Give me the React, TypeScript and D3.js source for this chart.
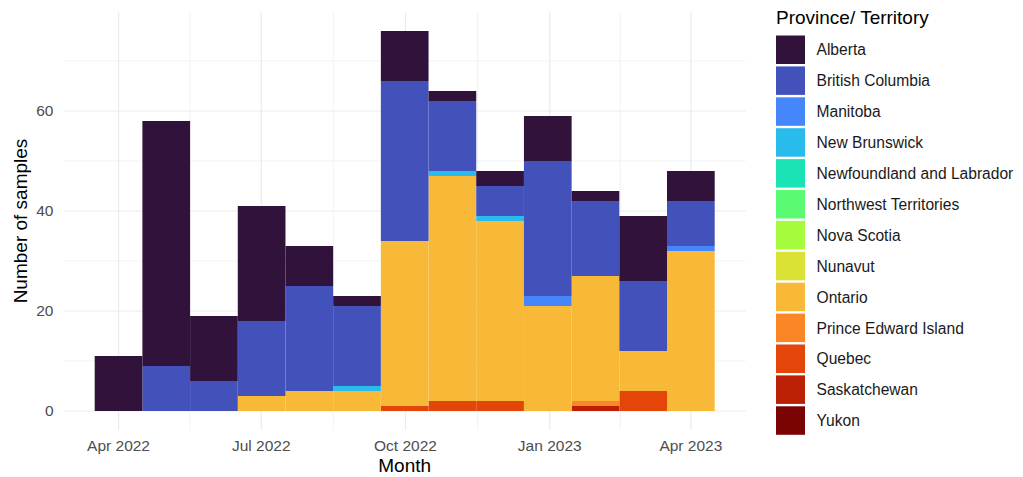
import { useEffect } from 'react';
import * as d3 from 'd3';

// months (histogram bins centred on the 1st of each month, 13 bins)
const months = [
  'Apr 2022', 'May 2022', 'Jun 2022', 'Jul 2022', 'Aug 2022', 'Sep 2022', 'Oct 2022',
  'Nov 2022', 'Dec 2022', 'Jan 2023', 'Feb 2023', 'Mar 2023', 'Apr 2023',
];
const firstCenter = new Date(2022, 3, 1);
const lastCenter = new Date(2023, 3, 1);

const provinces = [
  'Alberta', 'British Columbia', 'Manitoba', 'New Brunswick', 'Newfoundland and Labrador',
  'Northwest Territories', 'Nova Scotia', 'Nunavut', 'Ontario', 'Prince Edward Island',
  'Quebec', 'Saskatchewan', 'Yukon',
];
const colors = [
  '#30123B', '#4351BB', '#4686FB', '#29BBEC', '#1AE4B6', '#5AFB72', '#A4FC3C',
  '#DAE236', '#F8B938', '#FB8626', '#E4460A', '#BB2005', '#7A0403',
];

// counts per month for each province
const alberta = [11, 49, 13, 23, 8, 2, 10, 2, 3, 9, 2, 13, 6];
const britishColumbia = [0, 9, 6, 15, 21, 16, 32, 14, 6, 27, 15, 14, 9];
const manitoba = [0, 0, 0, 0, 0, 0, 0, 0, 0, 2, 0, 0, 1];
const newBrunswick = [0, 0, 0, 0, 0, 1, 0, 1, 1, 0, 0, 0, 0];
const ontario = [0, 0, 0, 3, 4, 4, 33, 45, 36, 21, 25, 8, 32];
const princeEdward = [0, 0, 0, 0, 0, 0, 0, 0, 0, 0, 1, 0, 0];
const quebec = [0, 0, 0, 0, 0, 0, 1, 2, 2, 0, 0, 4, 0];
const saskatchewan = [0, 0, 0, 0, 0, 0, 0, 0, 0, 0, 1, 0, 0];
const zeros = months.map(() => 0);

const seriesByProvince: Record<string, number[]> = {
  'Alberta': alberta,
  'British Columbia': britishColumbia,
  'Manitoba': manitoba,
  'New Brunswick': newBrunswick,
  'Newfoundland and Labrador': zeros,
  'Northwest Territories': zeros,
  'Nova Scotia': zeros,
  'Nunavut': zeros,
  'Ontario': ontario,
  'Prince Edward Island': princeEdward,
  'Quebec': quebec,
  'Saskatchewan': saskatchewan,
  'Yukon': zeros,
};

const yTicks = [0, 20, 40, 60];
const yMinor = [10, 30, 50, 70];
const xTicks = [new Date(2022, 3, 1), new Date(2022, 6, 1), new Date(2022, 9, 1), new Date(2023, 0, 1), new Date(2023, 3, 1)];

const W = 1023;
const H = 477;
const panel = { left: 63.7, right: 745.7, top: 12, bottom: 430 };
const font = 'Liberation Sans, Arial, Helvetica, sans-serif';

export default function App() {
  useEffect(() => {
    document.body.style.margin = '0';
  }, []);

  const n = months.length;
  const day = 86400000;
  const step = (lastCenter.getTime() - firstCenter.getTime()) / (n - 1);
  const binStart = (i: number) => new Date(firstCenter.getTime() + (i - 0.5) * step);
  const lo = binStart(0).getTime();
  const hi = binStart(n).getTime();
  const pad = (hi - lo) * 0.05;

  const x = d3.scaleTime()
    .domain([new Date(lo - pad), new Date(hi + pad)])
    .range([panel.left, panel.right]);

  const rows = months.map((m, i) => {
    const r: any = { month: m };
    provinces.forEach(p => { r[p] = seriesByProvince[p][i]; });
    return r;
  });
  const maxTotal = d3.max(rows, (r: any) => d3.sum(provinces, p => r[p])) as number;
  const y = d3.scaleLinear()
    .domain([-maxTotal * 0.05, maxTotal * 1.05])
    .range([panel.bottom, panel.top]);

  // ggplot stacks the first level on top, so stack in reverse order
  const stack = d3.stack().keys([...provinces].reverse());
  const stacked = stack(rows);
  const color = d3.scaleOrdinal<string, string>().domain(provinces).range(colors);

  // minor x breaks halfway between major breaks
  const xMinor: Date[] = [];
  for (let i = 0; i < xTicks.length - 1; i++) {
    xMinor.push(new Date((xTicks[i].getTime() + xTicks[i + 1].getTime()) / 2));
  }

  const grid = '#EBEBEB';
  const legendX = 776;
  const legendY = 35.5;
  const keyPitch = 30.9;

  return (
    <svg width={W} height={H} style={{ display: 'block', background: '#fff' }}>
      {/* grid */}
      {yMinor.map(v => (
        <line key={'ym' + v} x1={panel.left} x2={panel.right} y1={y(v)} y2={y(v)} stroke={grid} strokeWidth={0.6} />
      ))}
      {xMinor.map((d, i) => (
        <line key={'xm' + i} x1={x(d)} x2={x(d)} y1={panel.top} y2={panel.bottom} stroke={grid} strokeWidth={0.6} />
      ))}
      {yTicks.map(v => (
        <line key={'y' + v} x1={panel.left} x2={panel.right} y1={y(v)} y2={y(v)} stroke={grid} strokeWidth={1.2} />
      ))}
      {xTicks.map((d, i) => (
        <line key={'x' + i} x1={x(d)} x2={x(d)} y1={panel.top} y2={panel.bottom} stroke={grid} strokeWidth={1.2} />
      ))}

      {/* bars */}
      {stacked.map(layer => (
        <g key={layer.key} fill={color(layer.key)}>
          {layer.map((s, i) => {
            if (s[1] - s[0] <= 0) return null;
            const x0 = x(binStart(i));
            const x1 = x(binStart(i + 1));
            return (
              <rect key={i} x={x0} width={x1 - x0} y={y(s[1])} height={y(s[0]) - y(s[1])} />
            );
          })}
        </g>
      ))}

      {/* y axis labels */}
      {yTicks.map(v => (
        <text key={'yl' + v} x={53.5} y={y(v)} dy="0.35em" textAnchor="end" fontFamily={font} fontSize={15.5} fill="#4D4D4D">
          {v}
        </text>
      ))}
      {xTicks.map((d, i) => (
        <text key={'xl' + i} x={x(d)} y={451} textAnchor="middle" fontFamily={font} fontSize={15.5} fill="#4D4D4D">
          {d3.timeFormat('%b %Y')(d)}
        </text>
      ))}

      {/* axis titles */}
      <text x={(panel.left + panel.right) / 2} y={472} textAnchor="middle" fontFamily={font} fontSize={19} fill="#000">
        Month
      </text>
      <text
        transform={`translate(27,${(panel.top + panel.bottom) / 2}) rotate(-90)`}
        textAnchor="middle" fontFamily={font} fontSize={19} fill="#000"
      >
        Number of samples
      </text>

      {/* legend */}
      <text x={legendX} y={23.5} fontFamily={font} fontSize={19} fill="#000">Province/ Territory</text>
      {provinces.map((p, i) => (
        <g key={p} transform={`translate(${legendX},${legendY + i * keyPitch})`}>
          <rect x={0} y={0} width={29} height={28.5} fill={color(p)} />
          <text x={40.5} y={14.5} dy="0.35em" fontFamily={font} fontSize={15.6} fill="#1A1A1A">{p}</text>
        </g>
      ))}
    </svg>
  );
}
